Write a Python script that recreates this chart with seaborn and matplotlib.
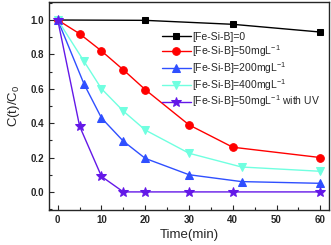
import numpy as np
import pandas as pd
import matplotlib
matplotlib.use('Agg')
import matplotlib.pyplot as plt
from matplotlib.ticker import MultipleLocator
import seaborn as sns

# dados
t_black = [0, 20, 40, 60]
c_black = [1.0, 0.998, 0.975, 0.93]

t_red = [0, 5, 10, 15, 20, 30, 40, 60]
c_red = [1.0, 0.92, 0.82, 0.71, 0.595, 0.39, 0.26, 0.20]

t_blue = [0, 6, 10, 15, 20, 30, 42, 60]
c_blue = [1.0, 0.628, 0.43, 0.295, 0.195, 0.10, 0.06, 0.05]

t_cyan = [0, 6, 10, 15, 20, 30, 42, 60]
c_cyan = [1.0, 0.76, 0.60, 0.47, 0.36, 0.225, 0.145, 0.12]

t_purple = [0, 5, 10, 15, 20, 30, 40, 60]
c_purple = [1.0, 0.382, 0.09, 0.0, 0.0, 0.0, 0.0, 0.0]

labels = ['[Fe-Si-B]=0',
          '[Fe-Si-B]=50mgL$^{-1}$',
          '[Fe-Si-B]=200mgL$^{-1}$',
          '[Fe-Si-B]=400mgL$^{-1}$',
          '[Fe-Si-B]=50mgL$^{-1}$ with UV']

sns.set_style('ticks')
plt.rcParams['font.family'] = ['Liberation Sans', 'DejaVu Sans']
plt.rcParams['mathtext.fontset'] = 'custom'
plt.rcParams['mathtext.rm'] = 'Liberation Sans'
plt.rcParams['mathtext.it'] = 'Liberation Sans'

fig = plt.figure(figsize=(3.31, 2.45), dpi=100)
ax = fig.add_axes([0.148, 0.143, 0.846, 0.849])

series = [
    (t_black, c_black, 's', '#000000', 5),
    (t_red, c_red, 'o', '#ff0000', 5.5),
    (t_blue, c_blue, '^', '#2f4fff', 6),
    (t_cyan, c_cyan, 'v', '#70ffe0', 6),
    (t_purple, c_purple, '*', '#6418e8', 7.5),
]

for (t, c, m, cor, ms), lab in zip(series, labels):
    sns.lineplot(x=t, y=c, marker=m, color=cor, markersize=ms,
                 markeredgecolor=cor, linewidth=1.0, label=lab, ax=ax)

ax.set_xlim(-2, 62)
ax.set_ylim(-0.105, 1.105)
ax.xaxis.set_major_locator(MultipleLocator(10))
ax.xaxis.set_minor_locator(MultipleLocator(5))
ax.yaxis.set_major_locator(MultipleLocator(0.2))
ax.yaxis.set_minor_locator(MultipleLocator(0.1))
ax.tick_params(which='major', direction='in', length=3.5, width=0.8, labelsize=7)
ax.tick_params(which='minor', direction='in', length=2, width=0.8)
for lbl in ax.get_xticklabels() + ax.get_yticklabels():
    lbl.set_fontweight('bold')
for sp in ax.spines.values():
    sp.set_linewidth(1.0)

ax.set_xlabel('Time(min)', fontsize=9.5, labelpad=3)
ax.set_ylabel('C(t)/C$_0$', fontsize=9.5, labelpad=6)

ax.legend(loc='upper left', bbox_to_anchor=(0.405, 0.855), frameon=False,
          fontsize=7.5, handlelength=2.7, handletextpad=0.15,
          labelspacing=0.1, borderpad=0, borderaxespad=0)

plt.savefig('out.png', dpi=100)
